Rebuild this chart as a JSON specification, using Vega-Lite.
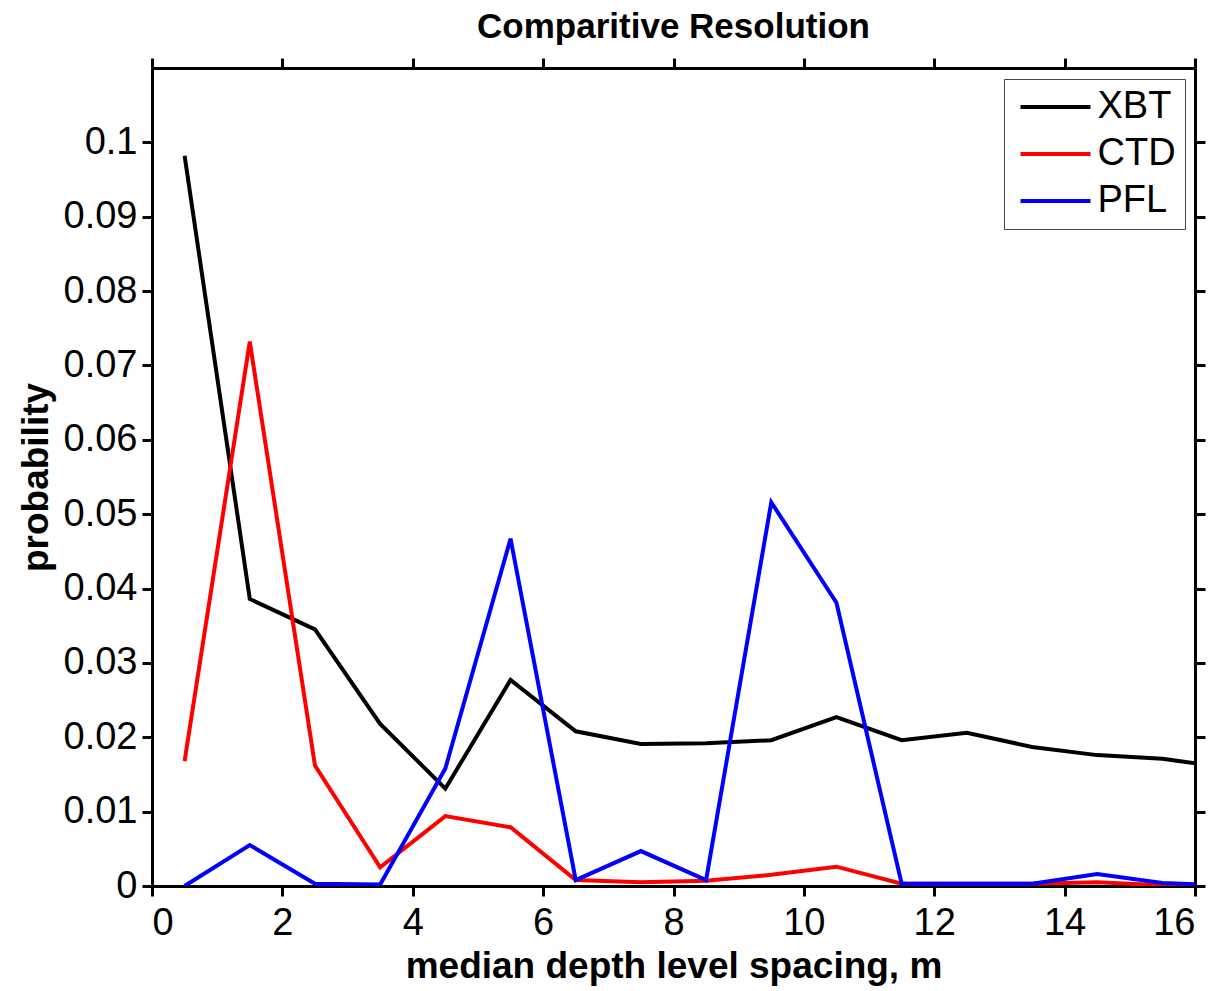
{
  "$schema": "https://vega.github.io/schema/vega-lite/v6.json",
  "autosize": {"type": "none"},
  "padding": {"left": 152, "top": 68, "right": 29, "bottom": 105},
  "width": 1043,
  "height": 818,
  "background": "white",
  "config": {
    "view": {"stroke": null},
    "font": "Liberation Sans",
    "axis": {
      "domainColor": "black", "domainWidth": 3, "tickColor": "black", "tickWidth": 3, "tickSize": 10,
      "labelFont": "Liberation Sans", "labelFontSize": 38, "labelColor": "black", "grid": false,
      "titleFont": "Liberation Sans", "titleFontSize": 37, "titleFontWeight": "bold", "titleColor": "black"
    }
  },
  "title": {"text": "Comparitive Resolution", "font": "Liberation Sans", "fontSize": 35, "fontWeight": "bold", "color": "black", "anchor": "middle", "offset": 12},
  "data": {"values": [
    {"x": 0.5, "series": "XBT", "p": 0.0982},
    {"x": 1.5, "series": "XBT", "p": 0.0386},
    {"x": 2.5, "series": "XBT", "p": 0.0345},
    {"x": 3.5, "series": "XBT", "p": 0.0218},
    {"x": 4.5, "series": "XBT", "p": 0.0131},
    {"x": 5.5, "series": "XBT", "p": 0.0277},
    {"x": 6.5, "series": "XBT", "p": 0.0208},
    {"x": 7.5, "series": "XBT", "p": 0.0191},
    {"x": 8.5, "series": "XBT", "p": 0.0192},
    {"x": 9.5, "series": "XBT", "p": 0.0196},
    {"x": 10.5, "series": "XBT", "p": 0.0227},
    {"x": 11.5, "series": "XBT", "p": 0.0196},
    {"x": 12.5, "series": "XBT", "p": 0.0206},
    {"x": 13.5, "series": "XBT", "p": 0.0187},
    {"x": 14.5, "series": "XBT", "p": 0.0176},
    {"x": 15.5, "series": "XBT", "p": 0.0171},
    {"x": 16.5, "series": "XBT", "p": 0.0159},
    {"x": 0.5, "series": "CTD", "p": 0.0168},
    {"x": 1.5, "series": "CTD", "p": 0.0732},
    {"x": 2.5, "series": "CTD", "p": 0.0162},
    {"x": 3.5, "series": "CTD", "p": 0.0025},
    {"x": 4.5, "series": "CTD", "p": 0.0094},
    {"x": 5.5, "series": "CTD", "p": 0.0079},
    {"x": 6.5, "series": "CTD", "p": 0.0008},
    {"x": 7.5, "series": "CTD", "p": 0.0005},
    {"x": 8.5, "series": "CTD", "p": 0.0007},
    {"x": 9.5, "series": "CTD", "p": 0.0015},
    {"x": 10.5, "series": "CTD", "p": 0.0026},
    {"x": 11.5, "series": "CTD", "p": 0.0003},
    {"x": 12.5, "series": "CTD", "p": 0.0003},
    {"x": 13.5, "series": "CTD", "p": 0.0003},
    {"x": 14.5, "series": "CTD", "p": 0.0005},
    {"x": 15.5, "series": "CTD", "p": 0.0001},
    {"x": 16.5, "series": "CTD", "p": 0.0},
    {"x": 0.5, "series": "PFL", "p": 0.0},
    {"x": 1.5, "series": "PFL", "p": 0.0055},
    {"x": 2.5, "series": "PFL", "p": 0.0003},
    {"x": 3.5, "series": "PFL", "p": 0.0002},
    {"x": 4.5, "series": "PFL", "p": 0.0158},
    {"x": 5.5, "series": "PFL", "p": 0.0467},
    {"x": 6.5, "series": "PFL", "p": 0.0008},
    {"x": 7.5, "series": "PFL", "p": 0.0047},
    {"x": 8.5, "series": "PFL", "p": 0.0008},
    {"x": 9.5, "series": "PFL", "p": 0.0516},
    {"x": 10.5, "series": "PFL", "p": 0.0381},
    {"x": 11.5, "series": "PFL", "p": 0.0003},
    {"x": 12.5, "series": "PFL", "p": 0.0003},
    {"x": 13.5, "series": "PFL", "p": 0.0003},
    {"x": 14.5, "series": "PFL", "p": 0.0016},
    {"x": 15.5, "series": "PFL", "p": 0.0004},
    {"x": 16.5, "series": "PFL", "p": 0.0001}
  ]},
  "layer": [
    {
      "mark": {"type": "line", "strokeWidth": 4, "clip": true},
      "encoding": {
        "x": {"field": "x", "type": "quantitative", "scale": {"domain": [0, 16], "nice": false},
              "axis": {"orient": "bottom", "values": [0, 2, 4, 6, 8, 10, 12, 14, 16], "labelPadding": 8, "title": "median depth level spacing, m", "titlePadding": 6}},
        "y": {"field": "p", "type": "quantitative", "scale": {"domain": [0, 0.11], "nice": false},
              "axis": {"orient": "left", "values": [0, 0.01, 0.02, 0.03, 0.04, 0.05, 0.06, 0.07, 0.08, 0.09, 0.1], "format": "~g", "labelPadding": 5, "title": "probability", "titlePadding": 8}},
        "color": {"field": "series", "type": "nominal",
                  "scale": {"domain": ["XBT", "CTD", "PFL"], "range": ["#000000", "#ff0000", "#0000ff"]},
                  "legend": {"orient": "none", "legendX": 852, "legendY": 11, "title": null,
                             "symbolType": "M-3.5,0H3.5", "symbolSize": 400, "symbolStrokeWidth": 4, "symbolOffset": 23.5,
                             "labelFont": "Liberation Sans", "labelFontSize": 38, "labelColor": "black", "labelOffset": 23,
                             "rowPadding": 9, "padding": 9, "strokeColor": "#444444", "fillColor": "white"}}
      }
    },
    {
      "mark": {"type": "line", "strokeOpacity": 0},
      "encoding": {
        "x": {"field": "x", "type": "quantitative",
              "axis": {"orient": "top", "values": [0, 2, 4, 6, 8, 10, 12, 14, 16], "labels": false, "title": null}},
        "y": {"field": "p", "type": "quantitative",
              "axis": {"orient": "right", "values": [0, 0.01, 0.02, 0.03, 0.04, 0.05, 0.06, 0.07, 0.08, 0.09, 0.1], "labels": false, "title": null}},
        "detail": {"field": "series"}
      }
    }
  ],
  "resolve": {"axis": {"x": "independent", "y": "independent"}}
}
